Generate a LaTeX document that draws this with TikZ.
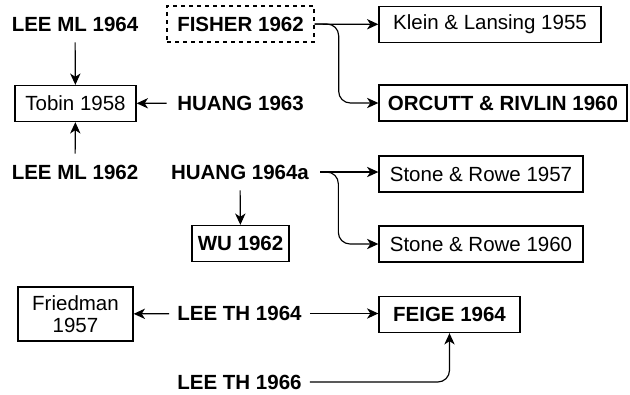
\documentclass[tikz,border=0pt]{standalone}
\usepackage{fontspec}
\setmainfont{Liberation Sans}
\usetikzlibrary{arrows.meta}
\begin{document}
\begin{tikzpicture}[x=0.6pt,y=-0.6pt,
  ref/.style={draw,line width=0.8pt,minimum height=21.6pt,inner sep=0pt,font=\fontsize{12.3}{13.2}\selectfont},
  src/.style={minimum height=21.6pt,inner sep=0pt,font=\fontsize{12.3}{13.2}\selectfont\bfseries},
  link/.style={line width=0.7pt,-{Stealth[length=6.8pt,width=6.2pt,inset=2pt]}}]
  \useasboundingbox (0,0) rectangle (630,394);
  \node[src,minimum width=76pt] (leeml64) at (75,24) {LEE ML 1964};
  \node[ref,minimum width=72.6pt] (tobin) at (75.5,103.5) {Tobin 1958};
  \node[src,minimum width=76pt] (leeml62) at (75,172) {LEE ML 1962};
  \node[src,minimum width=88.2pt] (huang63) at (240.5,103) {HUANG 1963};
  \node[ref,dashed,dash pattern=on 2.4pt off 2.4pt,font=\fontsize{12.3}{13.2}\selectfont\bfseries,minimum width=88.2pt] (fisher) at (240.5,24) {FISHER 1962};
  \node[ref,minimum width=133.2pt] (klein) at (490,24.5) {Klein \& Lansing 1955};
  \node[ref,font=\fontsize{12.3}{13.2}\selectfont\bfseries,minimum width=148.8pt] (orcutt) at (503,103) {ORCUTT \& RIVLIN 1960};
  \node[src,minimum width=96pt] (huang64a) at (240,172) {HUANG 1964a};
  \node[ref,minimum width=122.4pt] (stone57) at (481,174) {Stone \& Rowe 1957};
  \node[ref,minimum width=122.4pt] (stone60) at (481,244) {Stone \& Rowe 1960};
  \node[ref,font=\fontsize{12.3}{13.2}\selectfont\bfseries,minimum width=58.2pt] (wu) at (240.5,243.5) {WU 1962};
  \node[ref,align=center,minimum width=69pt,minimum height=32.4pt] (friedman) at (75.5,314) {Friedman\\1957};
  \node[src,minimum width=84pt] (leeth64) at (239.5,313.5) {LEE TH 1964};
  \node[ref,font=\fontsize{12.3}{13.2}\selectfont\bfseries,minimum width=84.6pt] (feige) at (449.5,314.5) {FEIGE 1964};
  \node[src,minimum width=84pt] (leeth66) at (239.5,382) {LEE TH 1966};
  \draw[link] (leeml64) -- (tobin);
  \draw[link] (leeml62) -- (tobin);
  \draw[link] (huang63) -- (tobin);
  \draw[link] (fisher) -- (klein);
  \draw[link,rounded corners=7pt] (fisher.east) -- ++(24,0) |- (orcutt.west);
  \draw[link] (huang64a.east) -- (stone57.west |- huang64a.east);
  \draw[link,rounded corners=7pt] (huang64a.east) -- ++(18,0) |- (stone60.west);
  \draw[link] (huang64a) -- (wu);
  \draw[link] (leeth64) -- (friedman);
  \draw[link] (leeth64.east) -- (feige.west |- leeth64.east);
  \draw[link,rounded corners=7pt] (leeth66.east) -| (feige.south);
\end{tikzpicture}
\end{document}
